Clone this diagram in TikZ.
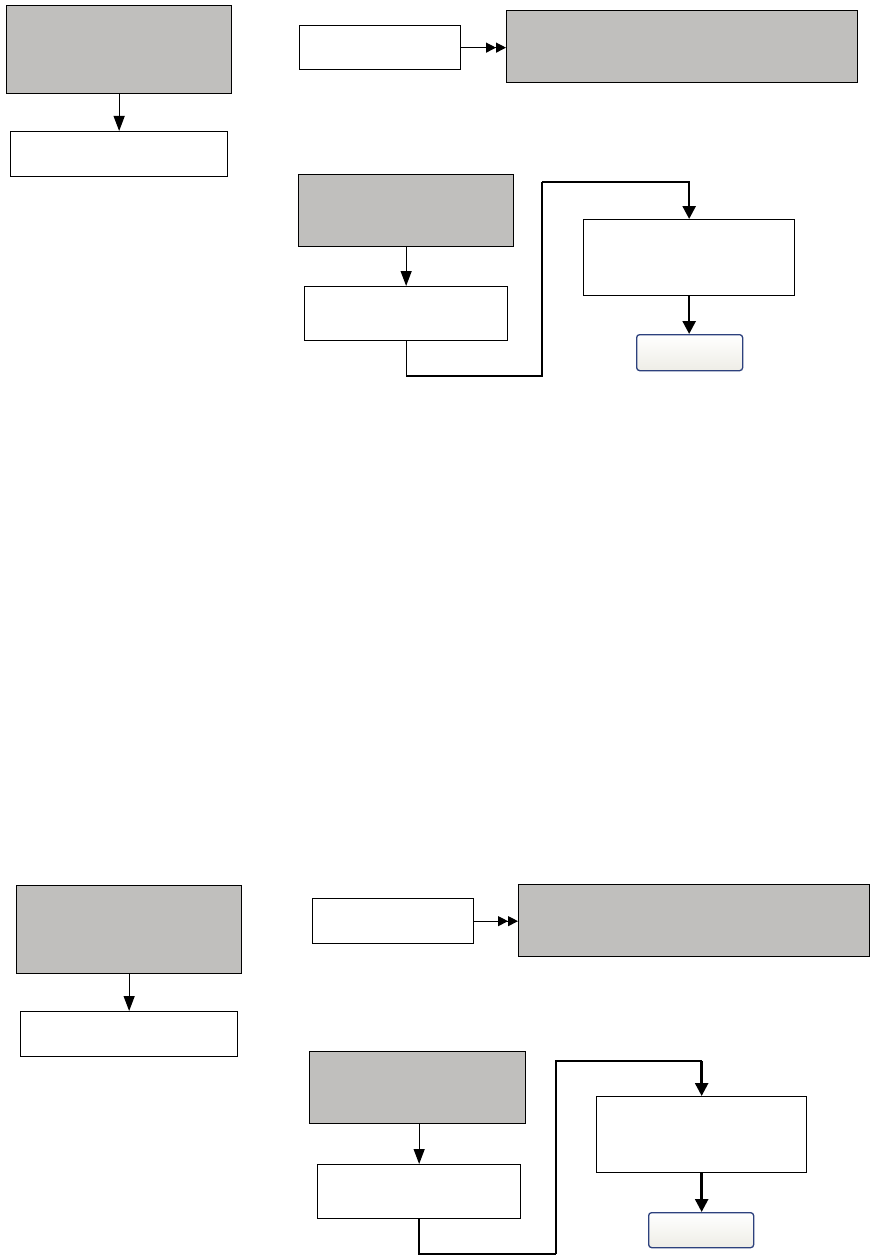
\documentclass[tikz,border=0pt]{standalone}
\usepackage{tikz}
\usetikzlibrary{arrows.meta}

\definecolor{boxgray}{RGB}{192,191,189}
\definecolor{endblue}{RGB}{45,65,125}
\definecolor{endfill}{RGB}{238,237,230}

\begin{document}
\begin{tikzpicture}[x=1pt, y=-1pt,
  box/.style = {draw, line width=1.3pt, rectangle, inner sep=0pt, anchor=north west},
  graybox/.style = {box, fill=boxgray},
  endbox/.style = {draw=endblue, line width=1.3pt, rounded corners=3pt, inner sep=0pt,
    anchor=north west, top color=white, bottom color=endfill},
  link/.style = {line width=1.2pt},
  boldlink/.style = {line width=2.6pt},
  tip/.style = {-{Triangle[length=15pt,width=11pt]}},
  boldtip/.style = {-{Triangle[length=13pt,width=13pt]}},
  twotip/.style = {-{Triangle[length=10pt,width=10pt]Triangle[length=10pt,width=10pt]}}]
\useasboundingbox (0,0) rectangle (874,1260);

% upper half
\node[graybox, minimum width=225pt, minimum height=88pt] (A) at (6,5) {};
\node[box, minimum width=217pt, minimum height=45pt] (B) at (10,131) {};
\draw[link, tip] (A.south -| B.north) -- (B.north);

\node[box, minimum width=161pt, minimum height=44pt] (C) at (299,25) {};
\node[graybox, minimum width=351pt, minimum height=72pt] (D) at (506,10) {};
\draw[link, twotip] (C.east) -- (C.east -| D.west);

\node[graybox, minimum width=215pt, minimum height=72pt] (E) at (298,174) {};
\node[box, minimum width=203pt, minimum height=54pt] (F) at (304,286) {};
\draw[link, tip] (E.south -| F.north) -- (F.north);

\node[box, minimum width=211pt, minimum height=76pt] (G) at (583,219) {};
\node[endbox, minimum width=106pt, minimum height=36pt] (H) at (636,334) {};
\draw[boldlink, boldtip] (G.south) -- (G.south |- H.north);

\coordinate (low) at (542,376);
\coordinate (high) at (542,182);
\draw[link] (F.south) |- (low) -- (high);
\draw[boldlink, boldtip] (high) -| (G.north);

% lower half
\node[graybox, minimum width=225pt, minimum height=88pt] (A2) at (16,885) {};
\node[box, minimum width=217pt, minimum height=45pt] (B2) at (20,1011) {};
\draw[link, tip] (A2.south -| B2.north) -- (B2.north);

\node[box, minimum width=161pt, minimum height=45pt] (C2) at (312,898) {};
\node[graybox, minimum width=351pt, minimum height=72pt] (D2) at (518,884) {};
\draw[link, twotip] (C2.east) -- (C2.east -| D2.west);

\node[graybox, minimum width=216pt, minimum height=72pt] (E2) at (309,1051) {};
\node[box, minimum width=203pt, minimum height=54pt] (F2) at (317,1164) {};
\draw[link, tip] (E2.south -| F2.north) -- (F2.north);

\node[box, minimum width=210pt, minimum height=76pt] (G2) at (596,1096) {};
\node[endbox, minimum width=105pt, minimum height=35pt] (H2) at (648,1212) {};
\draw[boldlink, boldtip] (G2.south) -- (G2.south |- H2.north);

\coordinate (low2) at (556,1254);
\coordinate (high2) at (556,1061);
\draw[boldlink] (F2.south) |- (low2);
\draw[link] (low2) -- (high2) -- (high2 -| G2.north);
\draw[boldlink, boldtip] (high2 -| G2.north) -- (G2.north);
\end{tikzpicture}
\end{document}
